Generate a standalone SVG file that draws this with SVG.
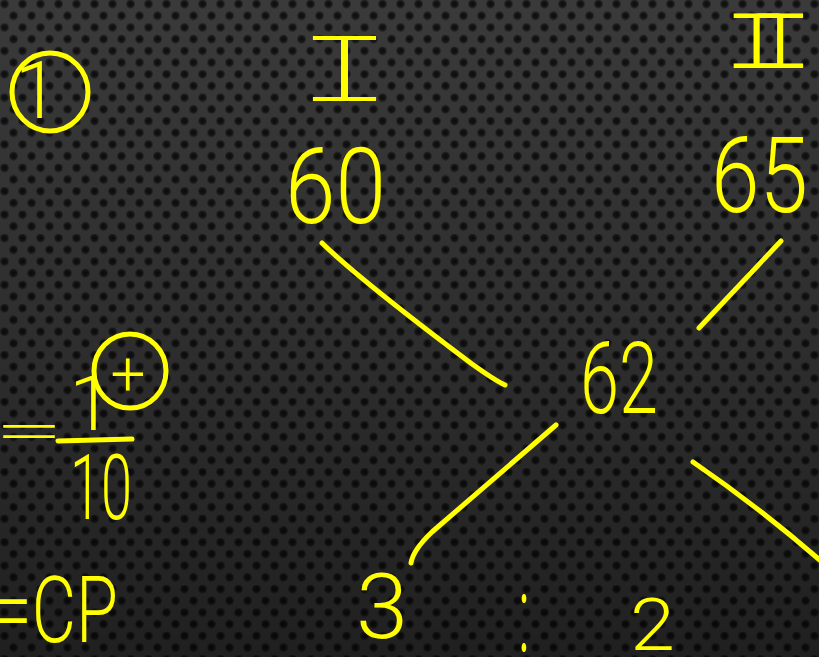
<svg xmlns="http://www.w3.org/2000/svg" width="819" height="657" viewBox="0 0 819 657">
  <style>
    .hw { fill: #ffff00; font-family: Roboto, "Liberation Sans", sans-serif; font-weight: 300; }
    .rm { fill: #ffff00; font-family: "Liberation Mono", monospace; font-weight: 400; }
    .ln { fill: none; stroke: #ffff00; stroke-width: 5; stroke-linecap: round; stroke-linejoin: round; }
  </style>
  <defs>
    <linearGradient id="bg" x1="0" y1="0" x2="0" y2="1">
      <stop offset="0" stop-color="#3a3a3a"/>
      <stop offset="0.5" stop-color="#2e2e2e"/>
      <stop offset="1" stop-color="#202020"/>
    </linearGradient>
    <radialGradient id="dot" cx="0.5" cy="0.5" r="0.5">
      <stop offset="0" stop-color="#000" stop-opacity="0.8"/>
      <stop offset="0.6" stop-color="#000" stop-opacity="0.6"/>
      <stop offset="1" stop-color="#000" stop-opacity="0"/>
    </radialGradient>
    <pattern id="dots" width="18" height="23.4" patternUnits="userSpaceOnUse">
      <circle cx="4.5" cy="4" r="5" fill="url(#dot)"/>
      <circle cx="13.5" cy="15.7" r="5" fill="url(#dot)"/>
    </pattern>
    <filter id="thinI" x="-20%" y="-20%" width="140%" height="140%">
      <feMorphology operator="erode" radius="2.8 2"/>
    </filter>
    <filter id="thinII" x="-20%" y="-20%" width="140%" height="140%">
      <feMorphology operator="erode" radius="1.9 1.2"/>
    </filter>
  </defs>

  <rect width="819" height="657" fill="url(#bg)"/>
  <rect width="819" height="657" fill="url(#dots)"/>

  <g id="connectors">
    <path class="ln" d="M322,243 C360,280 440,340 472,364 C486,374 496,381 505,385"/>
    <path class="ln" d="M781,241 L699,328"/>
    <path class="ln" d="M556,425 L432,532 Q413,550 411,563"/>
    <path class="ln" d="M693,462 Q760,508 822,562"/>
  </g>

  <g id="circled-one">
    <ellipse cx="50" cy="92" rx="38" ry="39" class="ln"/>
    <text class="hw" x="37" y="118" font-size="80" text-anchor="middle">1</text>
  </g>

  <g id="node-I">
    <text class="rm" x="0" y="0" font-size="104" filter="url(#thinI)" transform="translate(290,103) scale(1.75,1)">I</text>
    <text class="hw" x="285" y="223" font-size="105" textLength="101" lengthAdjust="spacingAndGlyphs">60</text>
  </g>

  <g id="node-II">
    <text class="rm" x="0" y="0" font-size="86" letter-spacing="-36" filter="url(#thinII)" transform="translate(718,69) scale(1.5,1)">II</text>
    <text class="hw" x="711" y="212" font-size="105" textLength="97" lengthAdjust="spacingAndGlyphs">65</text>
  </g>

  <g id="node-62">
    <text class="hw" x="580" y="413" font-size="100" textLength="78" lengthAdjust="spacingAndGlyphs">62</text>
  </g>

  <g id="node-3">
    <text class="hw" x="356" y="638" font-size="90" textLength="52" lengthAdjust="spacingAndGlyphs">3</text>
  </g>

  <g id="ratio-colon">
    <text class="hw" x="524" y="652" font-size="110" text-anchor="middle" transform="translate(524,0) scale(0.5,1) translate(-524,0)">:</text>
  </g>

  <g id="node-2">
    <text class="hw" x="630" y="650" font-size="72" textLength="45" lengthAdjust="spacingAndGlyphs">2</text>
  </g>

  <g id="fraction">
    <text class="hw" x="-6" y="449" font-size="52" textLength="70" lengthAdjust="spacingAndGlyphs">=</text>
    <text class="hw" x="91" y="430" font-size="78" text-anchor="middle">1</text>
    <ellipse cx="130" cy="371" rx="36" ry="37" class="ln"/>
    <text class="hw" x="128" y="395" font-size="62" text-anchor="middle">+</text>
    <path class="ln" d="M58,441 L132,439"/>
    <text class="hw" x="70" y="519" font-size="90" textLength="62" lengthAdjust="spacingAndGlyphs">10</text>
  </g>

  <g id="eq-cp">
    <text class="hw" x="-6" y="642" font-size="92" textLength="124" lengthAdjust="spacingAndGlyphs">=CP</text>
  </g>
</svg>
